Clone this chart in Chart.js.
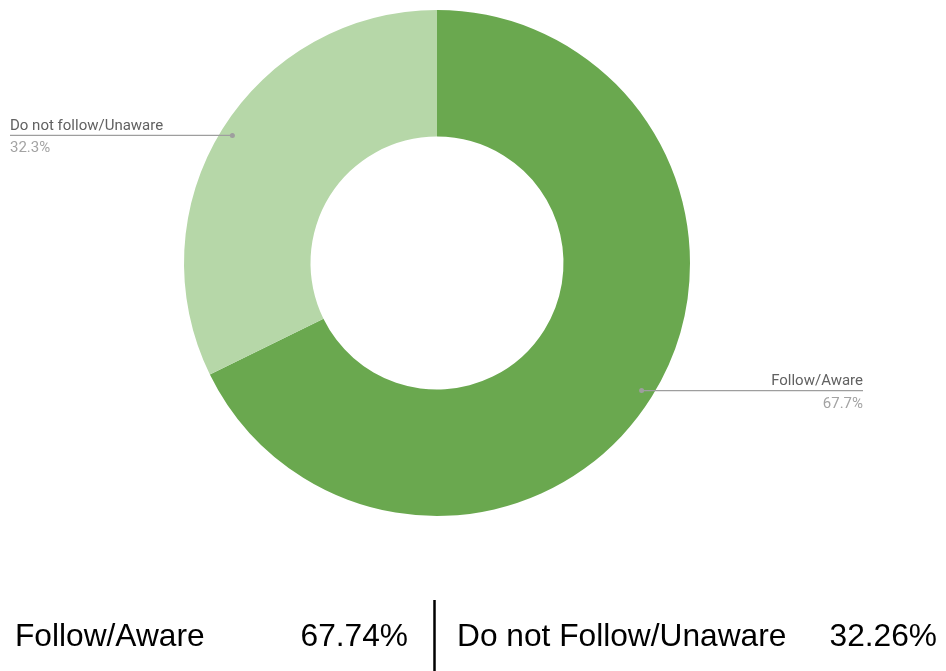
<!DOCTYPE html>
<html>
<head>
<meta charset="utf-8">
<script src="https://cdn.jsdelivr.net/npm/chart.js@4.4.1/dist/chart.umd.min.js"></script>
<style>
  html, body { margin: 0; padding: 0; background: #ffffff; }
  #wrap { width: 946px; height: 671px; position: relative; }
</style>
</head>
<body>
<div id="wrap"><canvas id="c" width="946" height="671"></canvas></div>
<script>
// ---- data ----
const categories = ['Follow/Aware', 'Do not follow/Unaware'];
const values = [67.74, 32.26];
const sliceColors = ['#6aa84f', '#b6d7a8'];
const summaryLabels = ['Follow/Aware', 'Do not Follow/Unaware'];
const summaryValues = ['67.74%', '32.26%'];

const total = values.reduce((a, b) => a + b, 0);

const leaderPlugin = {
  id: 'leaders',
  afterDatasetsDraw(chart) {
    const ctx = chart.ctx;
    const meta = chart.getDatasetMeta(0);
    ctx.save();
    meta.data.forEach((arc, i) => {
      const p = arc.getProps(['x', 'y', 'startAngle', 'endAngle', 'outerRadius'], true);
      const mid = (p.startAngle + p.endAngle) / 2;
      const r = p.outerRadius * 0.953;
      const dx = p.x + Math.cos(mid) * r;
      const dy = p.y + Math.sin(mid) * r;
      const left = dx < p.x;
      const endX = left ? 10 : 863;
      // line
      ctx.strokeStyle = '#9e9e9e';
      ctx.lineWidth = 1.3;
      ctx.beginPath();
      ctx.moveTo(dx, dy);
      ctx.lineTo(endX, dy);
      ctx.stroke();
      // dot
      ctx.fillStyle = '#9e9e9e';
      ctx.beginPath();
      ctx.arc(dx, dy, 2.5, 0, Math.PI * 2);
      ctx.fill();
      // texts
      ctx.textAlign = left ? 'left' : 'right';
      ctx.textBaseline = 'alphabetic';
      ctx.font = '15px Roboto';
      ctx.fillStyle = '#616161';
      ctx.fillText(chart.data.labels[i], endX, dy - 5.5);
      ctx.fillStyle = '#a3a3a3';
      const pct = (values[i] / total * 100).toFixed(1) + '%';
      ctx.fillText(pct, endX, dy + 17);
    });

    // bottom summary
    ctx.fillStyle = '#000000';
    ctx.font = '31.7px "Liberation Sans", Arial, sans-serif';
    ctx.textBaseline = 'alphabetic';
    ctx.textAlign = 'left';
    ctx.fillText(summaryLabels[0], 15, 646);
    ctx.textAlign = 'right';
    ctx.fillText(summaryValues[0], 408, 646);
    ctx.textAlign = 'left';
    ctx.fillText(summaryLabels[1], 457, 646);
    ctx.textAlign = 'right';
    ctx.fillText(summaryValues[1], 937, 646);
    ctx.strokeStyle = '#000000';
    ctx.lineWidth = 2.5;
    ctx.beginPath();
    ctx.moveTo(434.5, 600);
    ctx.lineTo(434.5, 671);
    ctx.stroke();
    ctx.restore();
  }
};

new Chart(document.getElementById('c'), {
  type: 'doughnut',
  data: {
    labels: categories,
    datasets: [{
      data: values,
      backgroundColor: sliceColors,
      borderWidth: 0,
      hoverOffset: 0
    }]
  },
  options: {
    responsive: false,
    animation: false,
    cutout: '50%',
    layout: { padding: { top: 10, bottom: 155, left: 0, right: 72 } },
    plugins: {
      legend: { display: false },
      tooltip: { enabled: false }
    }
  },
  plugins: [leaderPlugin]
});
</script>
</body>
</html>
